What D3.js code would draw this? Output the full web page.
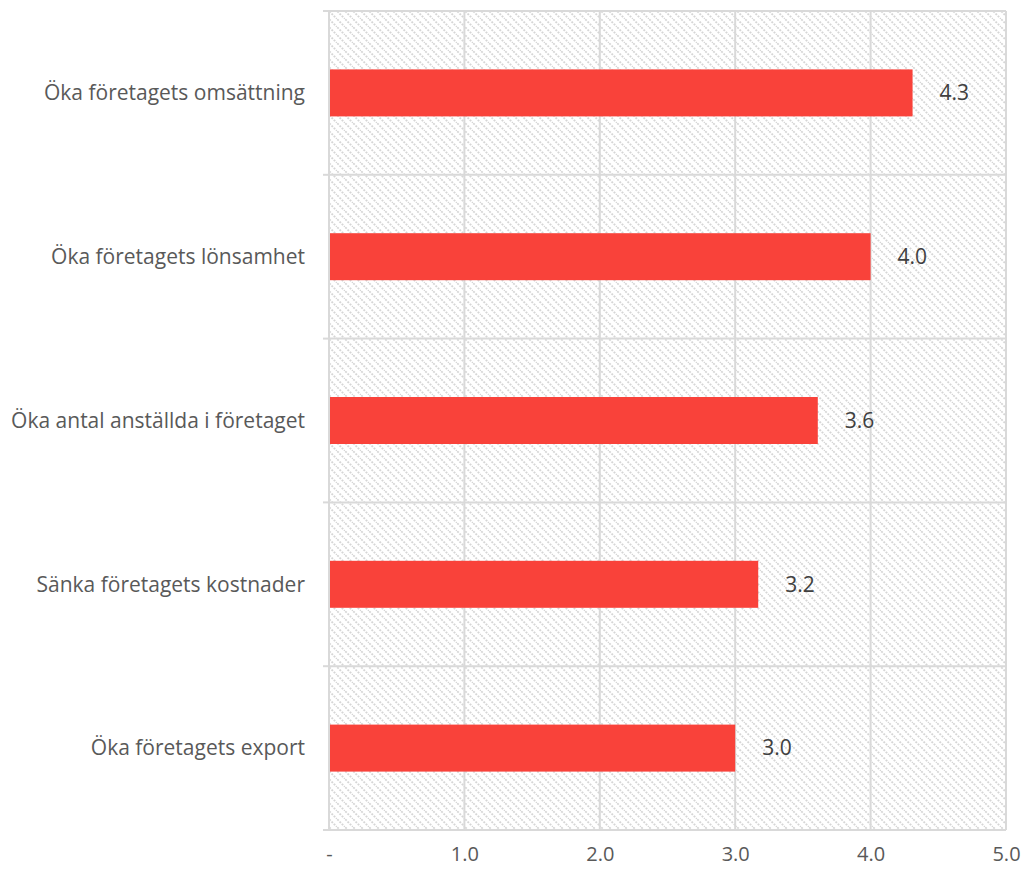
<!DOCTYPE html>
<html>
<head>
<meta charset="utf-8">
<script src="https://cdn.jsdelivr.net/npm/d3@7"></script>
<style>
  body { margin: 0; background: #fff; }
  text { font-family: "Open Sans", "Noto Sans", sans-serif; }
</style>
</head>
<body>
<div id="chart"></div>
<script>
// data
var categories = ["Öka företagets omsättning", "Öka företagets lönsamhet", "Öka antal anställda i företaget", "Sänka företagets kostnader", "Öka företagets export"];
var values = [4.31, 4.0, 3.61, 3.17, 3.0];
var tickValues = [0, 1, 2, 3, 4, 5];
var tickLabels = ["-", "1.0", "2.0", "3.0", "4.0", "5.0"];

var margin = {top: 11, right: 24, bottom: 39, left: 329},
    width = 1030 - margin.left - margin.right,
    height = 869 - margin.top - margin.bottom;

var svg = d3.select("#chart")
    .append("svg")
    .attr("width", 1030)
    .attr("height", 869);

// hatch fill for the plot area
var defs = svg.append("defs");
var pat = defs.append("pattern")
    .attr("id", "hatch")
    .attr("patternUnits", "userSpaceOnUse")
    .attr("width", 8)
    .attr("height", 8);
pat.append("rect").attr("width", 8).attr("height", 8).attr("fill", "#fff");
pat.append("path")
    .attr("d", "M-2,-2L10,10M-2,6L2,10M6,-2L10,2")
    .attr("stroke", "#d6d6d6")
    .attr("stroke-width", 1.8)
    .attr("stroke-dasharray", "2,1.2");

var g = svg.append("g")
    .attr("transform", "translate(" + margin.left + "," + margin.top + ")");

var x = d3.scaleLinear()
    .domain([0, 5])
    .range([0, width]);

var y = d3.scaleBand()
    .domain(categories)
    .range([0, height]);

g.append("rect")
    .attr("width", width)
    .attr("height", height)
    .attr("fill", "url(#hatch)");

// vertical gridlines
g.selectAll(".vgrid")
    .data(tickValues)
    .enter()
    .append("line")
    .attr("x1", d => x(d))
    .attr("x2", d => x(d))
    .attr("y1", 0)
    .attr("y2", height)
    .attr("stroke", "#d9d9d9")
    .attr("stroke-width", 2);

// horizontal lines at category boundaries
var bounds = categories.map(c => y(c)).concat([height]);
g.selectAll(".hgrid")
    .data(bounds)
    .enter()
    .append("line")
    .attr("x1", 0)
    .attr("x2", width)
    .attr("y1", d => d)
    .attr("y2", d => d)
    .attr("stroke", "#d9d9d9")
    .attr("stroke-width", 2);

// left axis tick marks sticking out
g.selectAll(".ytick")
    .data(bounds)
    .enter()
    .append("line")
    .attr("x1", -6)
    .attr("x2", 0)
    .attr("y1", d => d)
    .attr("y2", d => d)
    .attr("stroke", "#d9d9d9")
    .attr("stroke-width", 2);

// x axis labels
var xAxis = g.append("g")
    .attr("transform", "translate(0," + height + ")")
    .call(d3.axisBottom(x).tickValues(tickValues).tickSize(0).tickPadding(17)
        .tickFormat((d, i) => tickLabels[i]));
xAxis.select(".domain").remove();
xAxis.selectAll("text")
    .style("font-size", "20px")
    .style("font-family", "'Open Sans', sans-serif")
    .attr("fill", "#595959");

// category labels
g.selectAll(".cat")
    .data(categories)
    .enter()
    .append("text")
    .attr("x", -24)
    .attr("y", d => y(d) + y.bandwidth() / 2)
    .attr("dy", "0.35em")
    .attr("text-anchor", "end")
    .attr("fill", "#595959")
    .style("font-size", "21px")
    .text(d => d);

// bars
var barH = 47;
g.selectAll(".bar")
    .data(values)
    .enter()
    .append("rect")
    .attr("x", x(0) + 1)
    .attr("y", (d, i) => y(categories[i]) + y.bandwidth() / 2 - barH / 2)
    .attr("width", d => x(d) - x(0) - 1)
    .attr("height", barH)
    .attr("fill", "#f9423a");

// value labels
g.selectAll(".val")
    .data(values)
    .enter()
    .append("text")
    .attr("x", d => x(d) + 27)
    .attr("y", (d, i) => y(categories[i]) + y.bandwidth() / 2)
    .attr("dy", "0.35em")
    .attr("fill", "#404040")
    .style("font-size", "21px")
    .text(d => d3.format(".1f")(d));
</script>
</body>
</html>
